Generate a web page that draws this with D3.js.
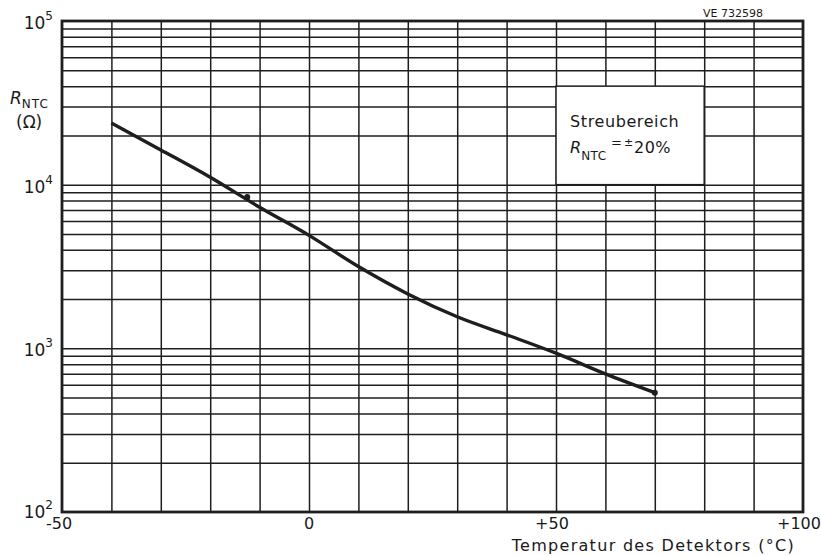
<!DOCTYPE html>
<html>
<head>
<meta charset="utf-8">
<script src="https://cdn.jsdelivr.net/npm/d3@7"></script>
<style>
  body { margin: 0; background: #fff; }
  svg text { font-family: "DejaVu Sans", sans-serif; fill: #1a1a1a; }
</style>
</head>
<body>
<div id="chart"></div>
<script>
// curve
var temps = [-40, -30, -20, -10, 0, 10, 20, 30, 40, 50, 60, 70];
var rValues = [23800, 16300, 11100, 7280, 4900, 3160, 2150, 1560, 1210, 934, 698, 536];
// the two marked measuring points
var dotTemps = [-12.5, 70];
var dotValues = [8400, 536];

var xTicks = [-50, 0, 50, 100];
var xTickLabels = ["-50", "0", "+50", "+100"];
var yDecades = [2, 3, 4, 5];

var svgWidth = 821, svgHeight = 556;
var margin = { top: 21, right: 18, bottom: 44, left: 62 };
var width = svgWidth - margin.left - margin.right;
var height = svgHeight - margin.top - margin.bottom;

var svg = d3.select("#chart").append("svg")
  .attr("width", svgWidth)
  .attr("height", svgHeight);

var chartGroup = svg.append("g")
  .attr("transform", `translate(${margin.left}, ${margin.top})`);

var xScale = d3.scaleLinear().domain([-50, 100]).range([0, width]);
var yScale = d3.scaleLog().domain([100, 100000]).range([height, 0]);

var ink = "#1e1e1e";

// vertical grid every 10 degrees
chartGroup.append("g")
  .call(d3.axisBottom(xScale).tickValues(d3.range(-40, 100, 10)).tickSize(height).tickFormat(""))
  .call(g => g.select(".domain").remove())
  .call(g => g.selectAll("line").attr("stroke", ink).attr("stroke-width", 1.5));

// horizontal log grid 1..9 per decade
var yGrid = [];
yDecades.slice(0, 3).forEach(function(e) {
  for (var m = 1; m <= 9; m++) {
    var v = m * Math.pow(10, e);
    if (v > 100) yGrid.push(v);
  }
});
chartGroup.append("g")
  .call(d3.axisLeft(yScale).tickValues(yGrid).tickSize(-width).tickFormat(""))
  .call(g => g.select(".domain").remove())
  .call(g => g.selectAll("line").attr("stroke", ink).attr("stroke-width", 1.5));

// white note box, bounded by grid lines 50..80 degC, 1e4..4e4 ohm
chartGroup.append("rect")
  .attr("x", xScale(50))
  .attr("y", yScale(40000))
  .attr("width", xScale(80) - xScale(50))
  .attr("height", yScale(10000) - yScale(40000))
  .attr("fill", "#fff")
  .attr("stroke", ink)
  .attr("stroke-width", 1.5);

// frame
chartGroup.append("rect")
  .attr("width", width)
  .attr("height", height)
  .attr("fill", "none")
  .attr("stroke", ink)
  .attr("stroke-width", 2.8);

// curve
var line = d3.line()
  .x(function(d, i) { return xScale(temps[i]); })
  .y(function(d) { return yScale(d); })
  .curve(d3.curveMonotoneX);

chartGroup.append("path")
  .datum(rValues)
  .attr("d", line)
  .attr("fill", "none")
  .attr("stroke", ink)
  .attr("stroke-width", 3.4)
  .attr("stroke-linecap", "butt");

chartGroup.selectAll(".dot")
  .data(dotValues)
  .enter()
  .append("circle")
  .attr("cx", (d, i) => xScale(dotTemps[i]))
  .attr("cy", d => yScale(d))
  .attr("r", 3)
  .attr("fill", ink);

// x tick labels
chartGroup.selectAll(".xlab")
  .data(xTicks)
  .enter()
  .append("text")
  .attr("x", (d, i) => xScale(d) + [-3, 0, -4, -4][i])
  .attr("y", height + 17)
  .attr("text-anchor", "middle")
  .attr("font-size", 16)
  .text((d, i) => xTickLabels[i]);

// y tick labels 10^n
var ylab = chartGroup.selectAll(".ylab")
  .data(yDecades)
  .enter()
  .append("text")
  .attr("x", -9)
  .attr("y", (d, i) => yScale(Math.pow(10, d)) + (i === 0 ? 6 : 8))
  .attr("text-anchor", "end")
  .attr("font-size", 17);
ylab.append("tspan").text("10");
ylab.append("tspan").attr("dy", -9).attr("font-size", 12).text(d => d);

// y axis title
var yt = svg.append("text")
  .attr("x", 10)
  .attr("y", 104)
  .attr("font-size", 17);
yt.append("tspan").attr("font-style", "italic").text("R");
yt.append("tspan").attr("dy", 4).attr("font-size", 12).attr("letter-spacing", 1).text("NTC");
svg.append("text")
  .attr("x", 16)
  .attr("y", 128)
  .attr("font-size", 17)
  .text("(Ω)");

// x axis title
svg.append("text")
  .attr("x", 795)
  .attr("y", 551)
  .attr("text-anchor", "end")
  .attr("font-size", 16)
  .attr("letter-spacing", 1.3)
  .text("Temperatur des Detektors (°C)");

// reference number
svg.append("text")
  .attr("x", 763)
  .attr("y", 17)
  .attr("text-anchor", "end")
  .attr("font-size", 11)
  .text("VE 732598");

// note text
svg.append("text")
  .attr("x", 570)
  .attr("y", 127)
  .attr("font-size", 16)
  .attr("letter-spacing", 0.6)
  .text("Streubereich");
var nt = svg.append("text")
  .attr("y", 153)
  .attr("font-size", 16);
nt.append("tspan").attr("x", 570).attr("font-style", "italic").text("R");
nt.append("tspan").attr("dy", 7).attr("font-size", 12).attr("letter-spacing", 0.5).text("NTC");
nt.append("tspan").attr("x", 611).attr("dy", -13).attr("font-size", 13).text("=");
nt.append("tspan").attr("x", 624).attr("dy", -1).attr("font-size", 11).text("±");
nt.append("tspan").attr("x", 634).attr("dy", 7).attr("letter-spacing", 0.5).text("20%");
</script>
</body>
</html>
